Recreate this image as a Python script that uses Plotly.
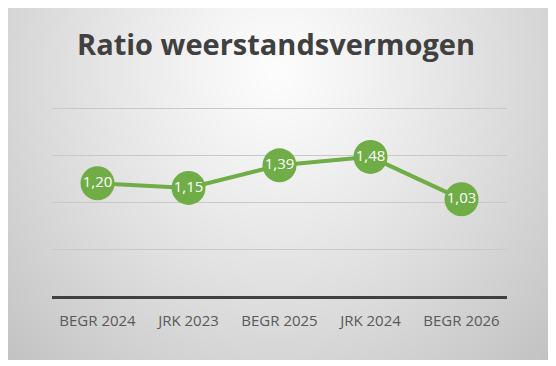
import base64, struct, zlib
import numpy as np
import plotly.graph_objects as go

categories = ["BEGR 2024", "JRK 2023", "BEGR 2025", "JRK 2024", "BEGR 2026"]
values = [1.20, 1.15, 1.39, 1.48, 1.03]
y_ticks = [0, 0.5, 1.0, 1.5, 2.0]
title_text = "Ratio weerstandsvermogen"

W, H = 556, 366
OFF = 8  # page body margin compensation
PX_TOP, PX_BOT, PX_LEFT, PX_RIGHT = 104, 296, 52, 507
PX_PER_UNIT = 94.0
L, R, T, B = PX_LEFT - OFF, W - PX_RIGHT + OFF, PX_TOP - OFF, H - PX_BOT + OFF
pw, ph = W - L - R, H - T - B
y_max = (PX_BOT - PX_TOP) / PX_PER_UNIT

# radial gradient background as PNG (target page coordinates)
bx0, by0, bx1, by1 = 5, 7, 549, 360
gw, gh = bx1 - bx0, by1 - by0
xx, yy = np.meshgrid(np.arange(gw) + bx0, np.arange(gh) + by0)
d = np.sqrt(((xx - 276) / 300.0) ** 2 + ((yy - 70) / 320.0) ** 2)
val = np.clip(253 - 44 * d ** 1.15, 0, 255).astype(np.uint8)

def png_gray(arr):
    h, w = arr.shape
    raw = b"".join(b"\x00" + arr[i].tobytes() for i in range(h))
    def chunk(t, data):
        c = struct.pack(">I", len(data)) + t + data
        return c + struct.pack(">I", zlib.crc32(t + data) & 0xFFFFFFFF)
    return (b"\x89PNG\r\n\x1a\n" + chunk(b"IHDR", struct.pack(">IIBBBBB", w, h, 8, 0, 0, 0, 0))
            + chunk(b"IDAT", zlib.compress(raw, 9)) + chunk(b"IEND", b""))

img_uri = "data:image/png;base64," + base64.b64encode(png_gray(val)).decode()

labels = [f"{v:.2f}".replace(".", ",") for v in values]

fig = go.Figure()
fig.add_trace(go.Scatter(
    x=categories, y=values, mode="lines+markers+text",
    line=dict(color="#70ad47", width=4),
    marker=dict(size=34, color="#70ad47"),
    text=labels, textposition="middle center",
    textfont=dict(family="Open Sans", size=15, color="white"),
    cliponaxis=False, hoverinfo="skip",
))

fig.update_layout(
    width=W, height=H,
    margin=dict(l=L, r=R, t=T, b=B),
    paper_bgcolor="white", plot_bgcolor="rgba(0,0,0,0)",
    showlegend=False,
    title=dict(text=f"<b>{title_text}</b>", x=(276 - OFF) / W, y=1 - (45 - OFF) / H,
               xanchor="center", yanchor="middle", xref="container", yref="container",
               font=dict(family="Open Sans", size=29, color="#404040")),
    images=[dict(source=img_uri, xref="paper", yref="paper",
                 x=(bx0 - PX_LEFT) / pw, y=(PX_BOT - by0) / ph,
                 sizex=gw / pw, sizey=gh / ph, sizing="stretch",
                 xanchor="left", yanchor="top", layer="below")],
    xaxis=dict(type="category", range=[-0.5, 4.5], showgrid=False, zeroline=False,
               showline=True, linecolor="#404040", linewidth=3, ticks="",
               ticklabelstandoff=9,
               tickfont=dict(family="Open Sans", size=15, color="#595959")),
    yaxis=dict(range=[0, y_max], tickvals=y_ticks, showticklabels=False, showgrid=True,
               gridcolor="#c8c8c8", gridwidth=1, zeroline=False, showline=False),
)

fig.write_html("out.html")
